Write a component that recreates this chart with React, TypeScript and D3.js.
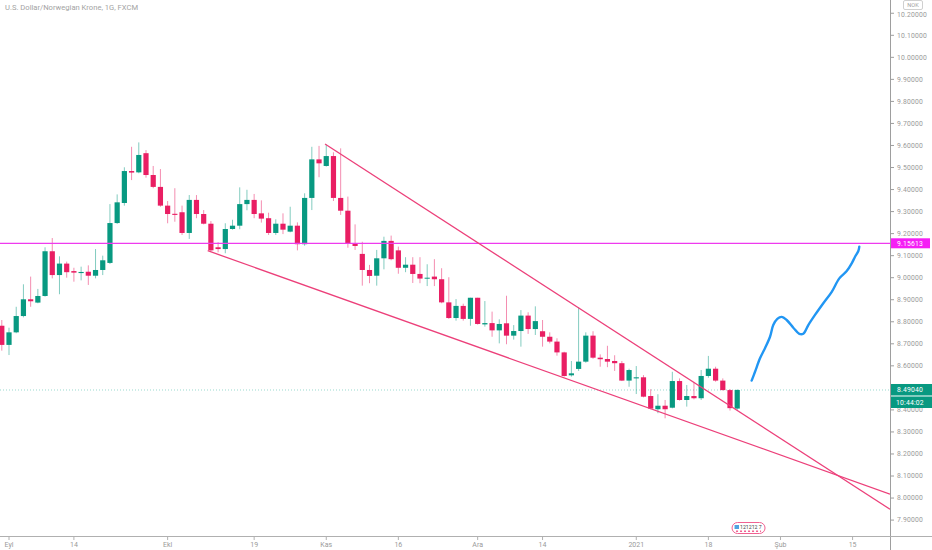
import * as d3 from 'd3';

// ---- data ----
const title = 'U.S. Dollar/Norwegian Krone, 1G, FXCM';
const currency = 'NOK';
const holidays = ['2020-12-25', '2021-01-01'];

// daily OHLC from 2020-08-31 to 2021-01-22
const opens = [
  8.782, 8.695, 8.752, 8.826, 8.902, 8.887, 8.917, 9.120, 9.012, 9.064, 9.030, 9.021, 9.027, 9.009, 9.035,
  9.067, 9.248, 9.339, 9.484, 9.478, 9.565, 9.466, 9.412, 9.327, 9.290, 9.297, 9.203, 9.353, 9.289, 9.245,
  9.138, 9.130, 9.221, 9.236, 9.334, 9.353, 9.292, 9.270, 9.203, 9.245, 9.209, 9.236, 9.152, 9.362, 9.537,
  9.507, 9.552, 9.362, 9.304, 9.156, 9.108, 9.035, 9.009, 9.088, 9.167, 9.124, 9.045, 9.059, 9.017, 8.996,
  9.005, 8.993, 8.888, 8.817, 8.872, 8.813, 8.909, 8.788, 8.794, 8.761, 8.793, 8.737, 8.758, 8.828, 8.767,
  8.757, 8.732, 8.710, 8.661, 8.557, 8.586, 8.619, 8.737, 8.637, 8.631, 8.622, 8.612, 8.533, 8.543, 8.548,
  8.463, 8.403, 8.419, 8.410, 8.531, 8.445, 8.463, 8.453, 8.554, 8.587, 8.533, 8.490, 8.406,
];
const highs = [
  8.808, 8.773, 8.868, 8.970, 9.005, 8.949, 9.138, 9.180, 9.097, 9.073, 9.045, 9.050, 9.056, 9.130, 9.100,
  9.334, 9.378, 9.501, 9.594, 9.614, 9.579, 9.507, 9.493, 9.348, 9.406, 9.327, 9.375, 9.375, 9.307, 9.257,
  9.161, 9.247, 9.263, 9.410, 9.399, 9.380, 9.351, 9.295, 9.265, 9.292, 9.322, 9.251, 9.383, 9.594, 9.598,
  9.605, 9.569, 9.587, 9.368, 9.242, 9.163, 9.058, 9.126, 9.186, 9.191, 9.141, 9.093, 9.093, 9.093, 9.061,
  9.084, 9.043, 9.002, 8.903, 8.882, 8.909, 8.909, 8.894, 8.846, 8.811, 8.918, 8.785, 8.853, 8.843, 8.870,
  8.808, 8.752, 8.725, 8.664, 8.622, 8.866, 8.752, 8.757, 8.652, 8.691, 8.648, 8.622, 8.587, 8.599, 8.558,
  8.494, 8.471, 8.445, 8.573, 8.543, 8.513, 8.527, 8.581, 8.645, 8.596, 8.543, 8.495, 8.494,
];
const lows = [
  8.669, 8.649, 8.748, 8.820, 8.868, 8.884, 8.914, 8.997, 8.925, 9.000, 8.982, 8.988, 8.967, 8.997, 9.012,
  9.062, 9.244, 9.327, 9.443, 9.474, 9.454, 9.406, 9.322, 9.247, 9.254, 9.194, 9.176, 9.270, 9.242, 9.121,
  9.115, 9.111, 9.218, 9.220, 9.306, 9.270, 9.250, 9.194, 9.194, 9.198, 9.206, 9.124, 9.145, 9.307, 9.456,
  9.504, 9.348, 9.285, 9.136, 9.126, 8.964, 8.975, 8.964, 9.038, 9.079, 9.018, 9.025, 8.976, 8.975, 8.962,
  8.962, 8.884, 8.813, 8.805, 8.805, 8.782, 8.787, 8.778, 8.732, 8.702, 8.698, 8.719, 8.687, 8.745, 8.740,
  8.687, 8.702, 8.646, 8.551, 8.551, 8.577, 8.614, 8.632, 8.596, 8.594, 8.577, 8.531, 8.505, 8.472, 8.457,
  8.403, 8.385, 8.362, 8.407, 8.442, 8.415, 8.448, 8.445, 8.546, 8.528, 8.488, 8.397, 8.400,
];
const closes = [
  8.695, 8.752, 8.826, 8.902, 8.893, 8.917, 9.120, 9.012, 9.064, 9.025, 9.023, 9.026, 9.009, 9.035, 9.079,
  9.248, 9.342, 9.484, 9.477, 9.557, 9.466, 9.412, 9.327, 9.289, 9.285, 9.203, 9.353, 9.289, 9.245, 9.124,
  9.130, 9.221, 9.236, 9.334, 9.353, 9.289, 9.268, 9.203, 9.245, 9.218, 9.236, 9.152, 9.362, 9.537, 9.519,
  9.552, 9.362, 9.304, 9.156, 9.144, 9.035, 9.008, 9.088, 9.167, 9.084, 9.045, 9.059, 9.017, 8.996, 9.000,
  8.993, 8.888, 8.817, 8.872, 8.813, 8.909, 8.790, 8.794, 8.761, 8.790, 8.737, 8.758, 8.828, 8.767, 8.803,
  8.732, 8.710, 8.661, 8.554, 8.566, 8.619, 8.737, 8.637, 8.630, 8.619, 8.612, 8.533, 8.581, 8.548, 8.460,
  8.406, 8.419, 8.403, 8.531, 8.445, 8.463, 8.453, 8.554, 8.587, 8.533, 8.490, 8.408, 8.4904,
];

const timeLabels = ['Eyl', '14', 'Ekl', '19', 'Kas', '16', 'Ara', '14', '2021', '18', 'Şub', '15'];
const timeLabelDates = [
  '2020-09-01', '2020-09-14', '2020-10-01', '2020-10-19', '2020-11-02', '2020-11-16',
  '2020-12-01', '2020-12-14', '2021-01-04', '2021-01-18', '2021-02-01', '2021-02-15',
];

const horizontalLevel = 9.15613;
const lastPrice = 8.4904;
const countdown = '10:44:02';
const eventText = '121212 7';

// trend lines: [bar offset from 2020-08-31, price]
const upperTrend = [[44.83, 9.607], [123.19, 7.949]];
const lowerTrend = [[28.56, 9.1225], [123.19, 8.018]];

// hand-drawn forecast path
const forecast = [
  [104.0, 8.533], [104.47, 8.573], [105.16, 8.634], [105.85, 8.68], [106.55, 8.732], [107.0, 8.785],
  [107.56, 8.813], [108.17, 8.822], [108.86, 8.808], [109.78, 8.773], [110.61, 8.745], [111.17, 8.746],
  [111.86, 8.785], [112.79, 8.831], [113.94, 8.884], [115.11, 8.936], [116.16, 8.997], [117.19, 9.03],
  [117.88, 9.065], [118.34, 9.095], [118.8, 9.121], [118.93, 9.141],
];

// ---- layout ----
const W = 932;
const H = 550;
const PLOT_R = 890;
const PLOT_B = 536;
const UP = '#089981';
const DOWN = '#e91e63';
const AXIS_TEXT = '#9a9a9a';
const FONT = 'Roboto, "Liberation Sans", sans-serif';

const fmtDay = d3.timeFormat('%Y-%m-%d');
const calendar = d3
  .timeDays(new Date(2020, 7, 31), new Date(2021, 2, 6))
  .filter(d => d.getDay() !== 0 && d.getDay() !== 6 && !holidays.includes(fmtDay(d)));
const calendarKeys = calendar.map(fmtDay);

export default function App() {
  const x = d3.scaleLinear().domain([-0.25, 123.19]).range([0, PLOT_R]);
  const y = d3.scaleLinear().domain([7.8278, 10.2602]).range([PLOT_B, 0]);

  const candles = opens.map((o, i) => ({ o, h: highs[i], l: lows[i], c: closes[i], i }));
  const bodyW = 5.2;

  const yLevel = y(horizontalLevel);
  const yLast = y(lastPrice);

  // tick labels hidden behind the price label boxes are not drawn
  const priceTicks = d3.range(79, 103).map(v => v / 10);
  const visibleTicks = priceTicks.filter(p => Math.abs(y(p) - yLast) > 8 && Math.abs(y(p) - yLevel) > 7);

  const line = d3.line<number[]>().x(d => x(d[0])).y(d => y(d[1]));
  const curve = d3.line<number[]>().x(d => x(d[0])).y(d => y(d[1])).curve(d3.curveCatmullRom);

  const markerX = x(103.5);

  return (
    <svg width={W} height={H} style={{ position: 'absolute', left: 0, top: 0, display: 'block', background: '#fff' }}
      fontFamily={FONT}>
      <defs>
        <clipPath id="plot">
          <rect x={0} y={0} width={PLOT_R} height={PLOT_B} />
        </clipPath>
      </defs>

      <text x={5} y={10} fontSize={7.6} fill="#a3a3a3">{title}</text>

      <g clipPath="url(#plot)">
        {/* last price dotted line */}
        <line x1={0} x2={PLOT_R} y1={yLast} y2={yLast} stroke="#7fcfc1" strokeWidth={0.8} strokeDasharray="1,2" />

        {/* candles */}
        {candles.map(d => {
          const up = d.c >= d.o;
          const cx = x(d.i);
          const top = y(Math.max(d.o, d.c));
          const bot = y(Math.min(d.o, d.c));
          return (
            <g key={d.i}>
              <line x1={cx} x2={cx} y1={y(d.h)} y2={y(d.l)} stroke={up ? UP : DOWN} strokeOpacity={0.5} strokeWidth={1} />
              <rect x={cx - bodyW / 2} y={top} width={bodyW} height={Math.max(1, bot - top)} fill={up ? UP : DOWN} />
            </g>
          );
        })}

        {/* horizontal level */}
        <line x1={0} x2={PLOT_R} y1={yLevel} y2={yLevel} stroke="#ee3bee" strokeWidth={1.2} />

        {/* trend lines */}
        <path d={line(upperTrend) ?? ''} fill="none" stroke="#ec407a" strokeWidth={1.3} />
        <path d={line(lowerTrend) ?? ''} fill="none" stroke="#ec407a" strokeWidth={1.3} />

        {/* forecast sketch */}
        <path d={curve(forecast) ?? ''} fill="none" stroke="#2196f3" strokeWidth={2.4} strokeLinecap="round" strokeLinejoin="round" />

        {/* event marker */}
        <g transform={`translate(${markerX},528)`}>
          <rect x={-16} y={-5.5} width={33} height={11} rx={5.5} fill="#fff" stroke="#f06292" strokeWidth={1} />
          <path d="M-12,3.2 L13,3.2" stroke="#f06292" strokeWidth={1.6} strokeDasharray="2,2" />
          <rect x={-13.5} y={-3} width={4.5} height={4} fill="#4fa3e0" />
          <text x={-8} y={0.5} fontSize={5.2} fill="#444">{eventText}</text>
        </g>
      </g>

      {/* axes */}
      <line x1={PLOT_R + 0.5} x2={PLOT_R + 0.5} y1={0} y2={H} stroke="#9e9e9e" strokeWidth={1} />
      <line x1={0} x2={W} y1={PLOT_B + 0.5} y2={PLOT_B + 0.5} stroke="#b0b0b0" strokeWidth={1} />

      {priceTicks.map(p => (
        <line key={p} x1={PLOT_R} x2={PLOT_R + 4} y1={y(p)} y2={y(p)} stroke="#9e9e9e" />
      ))}
      {visibleTicks.map(p => (
        <text key={p} x={PLOT_R + 7} y={y(p) + (p > 10.15 ? 1.5 : 0)} dy="0.35em" fontSize={6.8} fill={AXIS_TEXT} letterSpacing={0.2}>
          {p.toFixed(5)}
        </text>
      ))}

      {timeLabels.map((t, k) => {
        const idx = calendarKeys.indexOf(timeLabelDates[k]);
        const tx = x(idx);
        return (
          <g key={k} transform={`translate(${tx},${PLOT_B})`}>
            <line y1={0} y2={4} stroke="#b0b0b0" />
            <text y={11} textAnchor="middle" fontSize={7} fill={AXIS_TEXT}>{t}</text>
          </g>
        );
      })}

      {/* currency box */}
      <rect x={903.5} y={0.5} width={19} height={9} rx={1.5} fill="#fff" stroke="#d0d0d0" />
      <text x={913} y={7.3} textAnchor="middle" fontSize={5.6} fill="#a0a0a0">{currency}</text>

      {/* price labels */}
      <rect x={PLOT_R + 1} y={yLevel - 5} width={39} height={10} fill="#f51ef5" />
      <text x={PLOT_R + 7} y={yLevel} dy="0.35em" fontSize={6.8} fill="#fff" letterSpacing={0.2}>{horizontalLevel.toFixed(5)}</text>

      <rect x={PLOT_R + 1} y={yLast - 6} width={41} height={11.5} fill={UP} />
      <text x={PLOT_R + 7} y={yLast} dy="0.35em" fontSize={6.8} fill="#fff" letterSpacing={0.2}>{lastPrice.toFixed(5)}</text>
      <rect x={PLOT_R + 1} y={yLast + 6.5} width={41} height={11.5} fill={UP} />
      <text x={PLOT_R + 6} y={yLast + 12.5} dy="0.35em" fontSize={6.8} fill="#fff" letterSpacing={0.2}>{countdown}</text>
    </svg>
  );
}
